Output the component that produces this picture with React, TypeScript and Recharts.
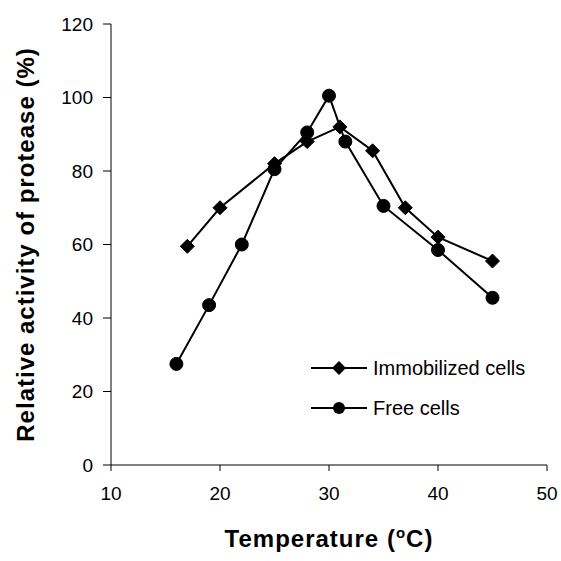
import React from "react";
import { LineChart, Line, XAxis, YAxis, Legend, Label } from "recharts";

// temperatures (°C) and relative activity (%)
const immobilizedTemps = [17, 20, 25, 28, 31, 34, 37, 40, 45];
const immobilizedActivity = [59.5, 70, 82, 88, 92, 85.5, 70, 62, 55.5];
const freeTemps = [16, 19, 22, 25, 28, 30, 31.5, 35, 40, 45];
const freeActivity = [27.5, 43.5, 60, 80.5, 90.5, 100.5, 88, 70.5, 58.5, 45.5];

const seriesNames = ["Immobilized cells", "Free cells"];
const xTicks = [10, 20, 30, 40, 50];
const yTicks = [0, 20, 40, 60, 80, 100, 120];

const immobilizedData = immobilizedTemps.map((t, i) => ({ t, v: immobilizedActivity[i] }));
const freeData = freeTemps.map((t, i) => ({ t, v: freeActivity[i] }));

const FONT = "'Liberation Sans', Arial, Helvetica, sans-serif";

const DiamondDot = (props: any) => {
  const { cx, cy, index } = props;
  if (cx == null || cy == null) return null;
  const s = 7;
  return (
    <polygon
      key={`d-${index}`}
      points={`${cx},${cy - s} ${cx + s},${cy} ${cx},${cy + s} ${cx - s},${cy}`}
      fill="#000"
      stroke="#000"
    />
  );
};

const CircleDot = (props: any) => {
  const { cx, cy, index } = props;
  if (cx == null || cy == null) return null;
  return <circle key={`c-${index}`} cx={cx} cy={cy} r={6.5} fill="#000" stroke="#000" />;
};

const renderLegend = (props: any) => {
  const payload = [...(props.payload || [])].sort(
    (a: any, b: any) => seriesNames.indexOf(a.value) - seriesNames.indexOf(b.value)
  );
  return (
    <svg width={250} height={80} style={{ overflow: "visible" }}>
      {payload.map((entry: any, i: number) => (
        <g key={entry.value} transform={`translate(0, ${i * 40})`}>
          <line x1={6} x2={62} y1={18} y2={18} stroke="#000" strokeWidth={2} />
          {entry.type === "diamond" ? (
            <polygon points="34,11 41,18 34,25 27,18" fill="#000" />
          ) : (
            <circle cx={34} cy={18} r={6} fill="#000" />
          )}
          <text x={68} y={18} dy="0.36em" fontSize={20} fontFamily={FONT} fill="#000">
            {entry.value}
          </text>
        </g>
      ))}
    </svg>
  );
};

const YTitle = (props: any) => {
  const { viewBox } = props;
  const cx = viewBox.x - 26;
  const cy = viewBox.y + viewBox.height / 2;
  return (
    <text
      x={cx}
      y={cy}
      transform={`rotate(-90, ${cx}, ${cy})`}
      textAnchor="middle"
      dominantBaseline="central"
      fontFamily={FONT}
      fontWeight="bold"
      fontSize={24}
      letterSpacing={1}
      fill="#000"
    >
      Relative activity of protease (%)
    </text>
  );
};

const XTitle = (props: any) => {
  const { viewBox } = props;
  const cx = viewBox.x + viewBox.width / 2;
  const y = viewBox.y + 82;
  return (
    <text
      x={cx}
      y={y}
      textAnchor="middle"
      fontFamily={FONT}
      fontWeight="bold"
      fontSize={24}
      letterSpacing={1}
      fill="#000"
    >
      Temperature (
      <tspan fontSize={15} dy={-9}>o</tspan>
      <tspan dy={9}>C)</tspan>
    </text>
  );
};

export default function App() {
  return (
    <div style={{ position: "absolute", left: 0, top: 0, background: "#fff" }}>
      <LineChart
        width={561}
        height={561}
        margin={{ top: 24, right: 14, bottom: 0, left: 51 }}
      >
        <XAxis
          type="number"
          dataKey="t"
          domain={[10, 50]}
          ticks={xTicks}
          allowDataOverflow
          height={96}
          stroke="#000"
          tickSize={6}
          tickMargin={16}
          tick={{ fill: "#000", fontSize: 19, fontFamily: FONT }}
        >
          <Label content={<XTitle />} />
        </XAxis>
        <YAxis
          type="number"
          domain={[0, 120]}
          ticks={yTicks}
          width={60}
          stroke="#000"
          tickSize={8}
          tickMargin={10}
          tick={{ fill: "#000", fontSize: 19, fontFamily: FONT }}
        >
          <Label content={<YTitle />} />
        </YAxis>
        <Legend
          layout="vertical"
          align="center"
          verticalAlign="middle"
          content={renderLegend}
          wrapperStyle={{ left: 305, top: 350, width: 250, height: 80 }}
        />
        <Line
          data={immobilizedData}
          dataKey="v"
          name="Immobilized cells"
          legendType="diamond"
          stroke="#000"
          strokeWidth={2}
          dot={<DiamondDot />}
          activeDot={false}
          isAnimationActive={false}
        />
        <Line
          data={freeData}
          dataKey="v"
          name="Free cells"
          legendType="circle"
          stroke="#000"
          strokeWidth={2}
          dot={<CircleDot />}
          activeDot={false}
          isAnimationActive={false}
        />
      </LineChart>
    </div>
  );
}
